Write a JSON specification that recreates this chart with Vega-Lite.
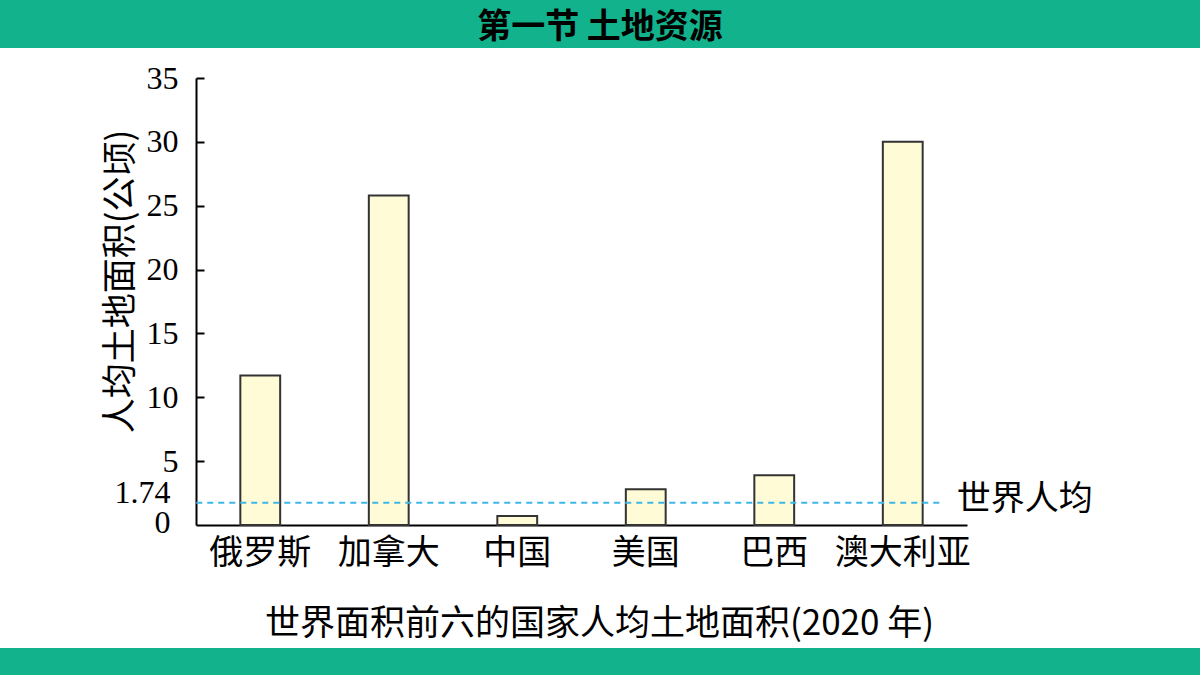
{
  "$schema": "https://vega.github.io/schema/vega-lite/v6.json",
  "width": 1200,
  "height": 600,
  "autosize": {"type": "none"},
  "padding": {"left": 0, "right": 0, "top": 48, "bottom": 27},
  "background": "#12b28c",
  "title": {
    "text": "第一节 土地资源",
    "font": "Noto Sans CJK SC",
    "fontSize": 34,
    "fontWeight": "bold",
    "color": "black",
    "anchor": "middle",
    "frame": "group",
    "baseline": "middle",
    "offset": 24,
    "dy": 38
  },
  "config": {
    "view": {"fill": "white", "stroke": null},
    "axis": {
      "grid": false,
      "domainColor": "black",
      "domainWidth": 2,
      "tickColor": "black",
      "tickWidth": 2,
      "labelColor": "black",
      "titleColor": "black",
      "titleFontWeight": "normal",
      "labelOverlap": false
    }
  },
  "datasets": {
    "land": [
      {"country": "俄罗斯", "area": 11.7},
      {"country": "加拿大", "area": 25.8},
      {"country": "中国", "area": 0.7},
      {"country": "美国", "area": 2.8},
      {"country": "巴西", "area": 3.9},
      {"country": "澳大利亚", "area": 30.0}
    ],
    "avg": [{"label": "世界人均", "area": 1.74}]
  },
  "layer": [
    {
      "data": {"name": "land"},
      "mark": {"type": "bar", "fill": "#fffbd6", "stroke": "#333333", "strokeWidth": 2},
      "encoding": {
        "x": {
          "field": "country",
          "type": "nominal",
          "sort": null,
          "scale": {"range": [196, 967], "paddingInner": 0.69, "paddingOuter": 0.345},
          "axis": {
            "title": "世界面积前六的国家人均土地面积(2020 年)",
            "titleFont": "Noto Sans CJK SC",
            "titleFontSize": 35,
            "titleX": 599,
            "titleY": 98,
            "titleBaseline": "middle",
            "titleAnchor": null,
            "labelFont": "Noto Sans CJK SC",
            "labelFontSize": 34,
            "labelAngle": 0,
            "labelBaseline": "middle",
            "labelPadding": 28,
            "ticks": false,
            "offset": -123
          }
        },
        "y": {
          "field": "area",
          "type": "quantitative",
          "scale": {"domain": [0, 35], "range": [477, 30], "nice": false, "zero": true},
          "axis": {
            "title": "人均土地面积(公顷)",
            "titleFont": "Noto Sans CJK SC",
            "titleFontSize": 35,
            "titleAngle": -90,
            "titleX": -76,
            "titleY": 233,
            "titleAlign": "center",
            "titleBaseline": "middle",
            "values": [0, 1.74, 5, 10, 15, 20, 25, 30, 35],
            "format": ".3~g",
            "labelFont": "Liberation Serif",
            "labelFontSize": 32,
            "labelPadding": 26,
            "labelBaseline": "middle",
            "labelOffset": {"condition": [{"test": "datum.value == 0", "value": -3}, {"test": "datum.value > 1 && datum.value < 2", "value": -10}], "value": 0},
            "tickSize": {"condition": {"test": "datum.value < 2", "value": 0}, "value": -8},
            "offset": -196
          }
        }
      }
    },
    {
      "data": {"name": "avg"},
      "mark": {"type": "rule", "color": "#3db6e8", "strokeWidth": 2, "strokeDash": [6, 5], "xOffset": -64, "x2Offset": 37},
      "encoding": {
        "x": {"datum": "俄罗斯"},
        "x2": {"datum": "澳大利亚"},
        "y": {"field": "area", "type": "quantitative"}
      }
    },
    {
      "data": {"name": "avg"},
      "mark": {"type": "text", "align": "left", "baseline": "middle", "dx": 54, "dy": -3, "font": "Noto Sans CJK SC", "fontSize": 34, "color": "black"},
      "encoding": {
        "x": {"datum": "澳大利亚"},
        "y": {"field": "area", "type": "quantitative"},
        "text": {"field": "label"}
      }
    }
  ]
}
